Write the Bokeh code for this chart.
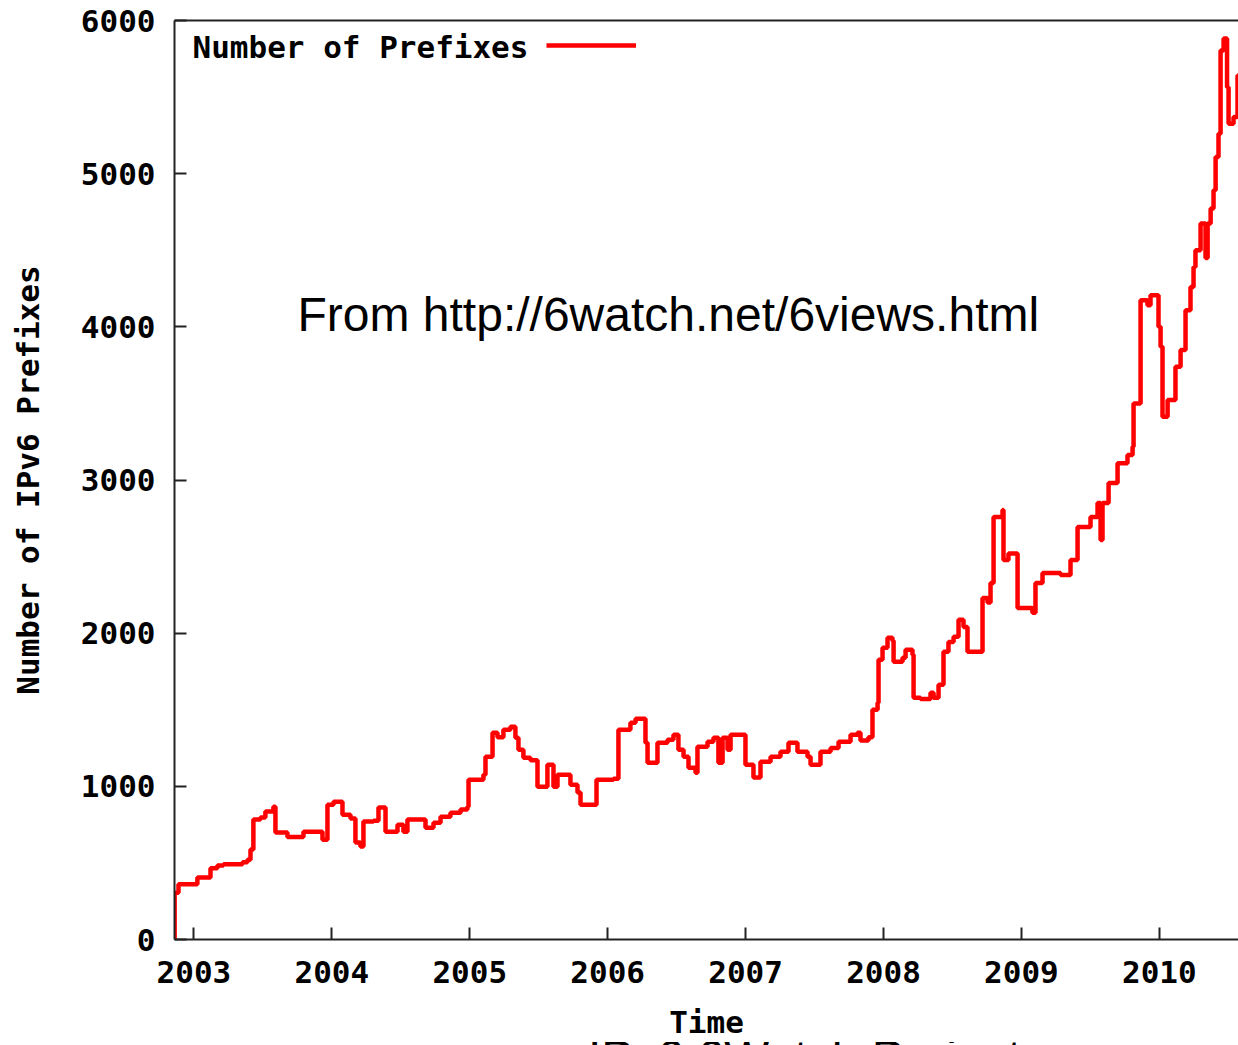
from bokeh.plotting import figure
from bokeh.models import Range1d, FixedTicker, LinearAxis, Label, Legend, LegendItem, Div
from bokeh.layouts import column
from bokeh.core.properties import value
from bokeh.embed import file_html
from bokeh.resources import INLINE

# ---- data (decimal year, number of IPv6 prefixes) ----
years = [
    2002.857, 2002.860, 2002.888, 2003.025, 2003.120, 2003.170, 2003.214, 2003.352, 2003.388, 2003.410,
    2003.431, 2003.482, 2003.518, 2003.576, 2003.591, 2003.678, 2003.794, 2003.932, 2003.968, 2004.012,
    2004.077, 2004.135, 2004.171, 2004.207, 2004.229, 2004.302, 2004.338, 2004.389, 2004.476, 2004.519,
    2004.548, 2004.679, 2004.737, 2004.788, 2004.860, 2004.933, 2004.983, 2004.991, 2005.099, 2005.114,
    2005.165, 2005.201, 2005.244, 2005.295, 2005.331, 2005.353, 2005.389, 2005.440, 2005.491, 2005.563,
    2005.607, 2005.636, 2005.730, 2005.781, 2005.803, 2005.919, 2006.042, 2006.078, 2006.165, 2006.202,
    2006.274, 2006.289, 2006.361, 2006.434, 2006.477, 2006.513, 2006.550, 2006.586, 2006.637, 2006.651,
    2006.724, 2006.767, 2006.803, 2006.833, 2006.869, 2006.891, 2006.999, 2007.057, 2007.108, 2007.181,
    2007.253, 2007.311, 2007.376, 2007.449, 2007.471, 2007.543, 2007.616, 2007.674, 2007.761, 2007.811,
    2007.833, 2007.891, 2007.920, 2007.957, 2007.964, 2007.993, 2008.029, 2008.065, 2008.073, 2008.138,
    2008.160, 2008.210, 2008.218, 2008.268, 2008.341, 2008.363, 2008.399, 2008.435, 2008.471, 2008.508,
    2008.544, 2008.580, 2008.609, 2008.718, 2008.754, 2008.776, 2008.798, 2008.863, 2008.870, 2008.906,
    2008.972, 2009.080, 2009.102, 2009.153, 2009.284, 2009.356, 2009.407, 2009.501, 2009.552, 2009.574,
    2009.588, 2009.632, 2009.697, 2009.769, 2009.806, 2009.813, 2009.864, 2009.914, 2009.936, 2009.994,
    2010.009, 2010.023, 2010.060, 2010.117, 2010.154, 2010.190, 2010.226, 2010.248, 2010.262, 2010.299,
    2010.335, 2010.350, 2010.372, 2010.393, 2010.408, 2010.429, 2010.444, 2010.466, 2010.491, 2010.502,
    2010.538, 2010.567, 2010.620,
]
prefixes = [
    0, 306, 360, 405, 465, 483, 492, 505, 520, 587,
    783, 796, 835, 867, 698, 670, 704, 652, 880, 900,
    815, 790, 633, 607, 770, 775, 861, 704, 750, 704,
    783, 730, 763, 802, 828, 848, 867, 1043, 1076, 1193,
    1350, 1320, 1370, 1389, 1317, 1239, 1187, 1170, 998, 1141,
    998, 1076, 1011, 959, 880, 1043, 1050, 1370, 1415, 1441,
    1285, 1154, 1285, 1304, 1337, 1239, 1193, 1122, 1089, 1259,
    1291, 1317, 1154, 1317, 1239, 1337, 1141, 1057, 1161, 1193,
    1226, 1285, 1226, 1193, 1141, 1226, 1250, 1291, 1337, 1350,
    1300, 1320, 1500, 1545, 1826, 1904, 1970, 1950, 1813, 1840,
    1891, 1859, 1578, 1570, 1611, 1578, 1663, 1878, 1943, 1976,
    2087, 2041, 1878, 2230, 2200, 2328, 2759, 2804, 2478, 2520,
    2165, 2133, 2328, 2393, 2380, 2478, 2693, 2759, 2850, 2609,
    2850, 2980, 3109, 3163, 3217, 3500, 4174, 4141, 4207, 4000,
    3870, 3413, 3522, 3739, 3848, 4109, 4260, 4391, 4500, 4674,
    4450, 4674, 4772, 4891, 5109, 5261, 5804, 5883, 5565, 5326,
    5370, 5641, 5641,
]
assert len(years) == len(prefixes)

x_ticks = [2003, 2004, 2005, 2006, 2007, 2008, 2009, 2010]
y_ticks = [0, 1000, 2000, 3000, 4000, 5000, 6000]

series_label = "Number of Prefixes"
x_title = "Time"
y_title = "Number of IPv6 Prefixes"
source_note = "From http://6watch.net/6views.html"
footer = "IPv6 6Watch Project"

MONO = "DejaVu Sans Mono"
SANS = "Liberation Sans"
AXIS = "#222222"

p = figure(width=1238, height=1042, output_backend="svg", toolbar_location=None,
           x_range=Range1d(2002.859, 2010.574), y_range=Range1d(0, 6000),
           min_border_left=174, min_border_right=0, min_border_top=20, min_border_bottom=102,
           margin=0)
p.outline_line_color = None
p.background_fill_color = "white"
p.border_fill_color = "white"
p.grid.visible = False

r = p.step(years, prefixes, mode="after", line_color="#ff0000", line_width=4.5)

for ax, ticks in ((p.xaxis[0], x_ticks), (p.yaxis[0], y_ticks)):
    ax.ticker = FixedTicker(ticks=ticks)
    ax.major_tick_in = 12
    ax.major_tick_out = 0
    ax.minor_tick_in = 0
    ax.minor_tick_out = 0
    ax.axis_line_width = 2
    ax.axis_line_color = AXIS
    ax.major_tick_line_width = 2
    ax.major_tick_line_color = AXIS
    ax.major_label_text_font = MONO
    ax.major_label_text_font_style = "bold"
    ax.major_label_text_font_size = "31px"
    ax.major_label_text_color = "black"
    ax.axis_label_text_font = MONO
    ax.axis_label_text_font_style = "bold"
    ax.axis_label_text_font_size = "31px"
    ax.axis_label_text_color = "black"

p.xaxis[0].axis_label = x_title
p.xaxis[0].major_label_standoff = 21
p.xaxis[0].axis_label_standoff = 18
p.yaxis[0].axis_label = y_title
p.yaxis[0].major_label_standoff = 19
p.yaxis[0].axis_label_standoff = 32

top = LinearAxis(ticker=FixedTicker(ticks=[]), axis_line_width=2, axis_line_color=AXIS,
                 major_tick_in=0, major_tick_out=0, minor_tick_in=0, minor_tick_out=0,
                 major_label_text_font_size="0px", major_label_standoff=0)
p.add_layout(top, "above")

# key: text first, then the line sample
p.add_layout(Label(x=18, y=893, x_units="screen", y_units="screen", text=series_label,
                   text_font=MONO, text_font_style="bold", text_font_size="31px",
                   text_color="black", text_baseline="alphabetic"))
legend = Legend(items=[LegendItem(label=value(""), renderers=[r])], location=(372, 884),
                padding=0, margin=0, spacing=0, label_standoff=0, label_width=0, label_height=20,
                glyph_width=90, glyph_height=20, border_line_color=None, background_fill_alpha=0,
                label_text_font_size="1px")
p.add_layout(legend, "center")

p.add_layout(Label(x=123, y=625, x_units="screen", y_units="screen", text=source_note,
                   text_font=SANS, text_font_size="48px", text_color="black",
                   text_baseline="alphabetic"))

# footer line of the source slide: only the top of it shows at the page edge
foot = Div(text=footer, width=1238, height=3, margin=0,
           styles={"overflow": "hidden", "font-family": SANS, "font-size": "48px",
                   "line-height": "32px", "padding-left": "588px", "white-space": "nowrap",
                   "color": "black", "box-sizing": "border-box"})

page = column(p, foot, spacing=0, margin=0)
open("out.html", "w").write(file_html(page, INLINE))
